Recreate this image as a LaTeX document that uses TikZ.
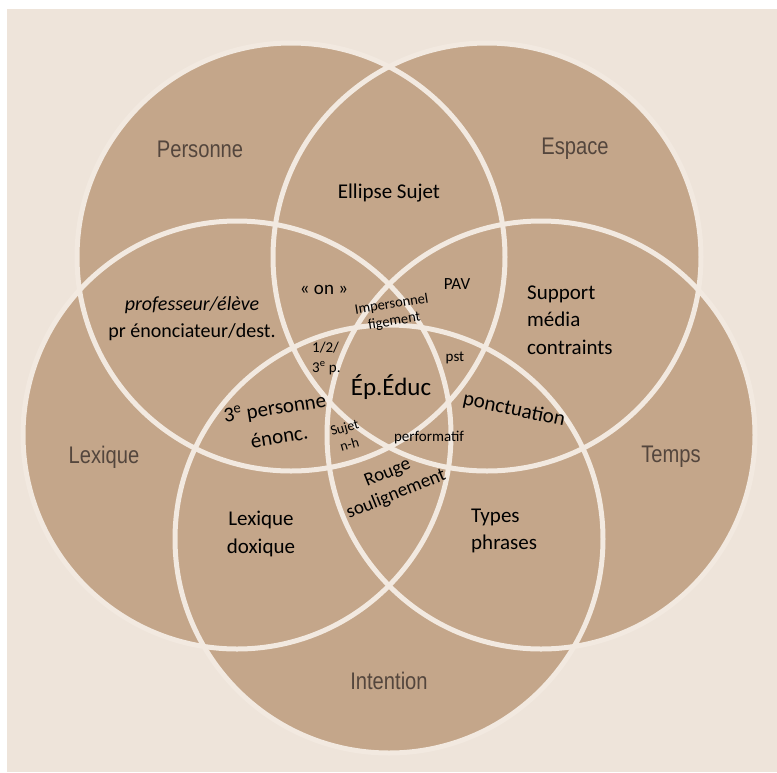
\documentclass[tikz,border=0pt]{standalone}
\usepackage{fontspec}
\setmainfont{Carlito}
\newfontfamily\condfont[FakeStretch=0.84]{Liberation Sans}
\definecolor{bgc}{HTML}{EEE4DA}
\definecolor{tanc}{HTML}{C4A68A}
\definecolor{ringc}{HTML}{F2E9E0}
\definecolor{labc}{HTML}{54463D}
\begin{document}
\begin{tikzpicture}[x=1pt,y=-1pt,
  setlab/.style={font=\condfont\fontsize{24}{24}\selectfont, text=labc, inner sep=0pt},
  txt/.style={font=\fontsize{21}{27.5}\selectfont, align=center, inner sep=0pt, text=black},
  smalltxt/.style={font=\fontsize{15}{18}\selectfont, align=center, inner sep=0pt, text=black},
  ring/.style={draw=ringc, line width=5pt},
  disk/.style={fill=tanc}]
\useasboundingbox (0,0) rectangle (777,772);
\fill[white] (0,0) rectangle (777,772);
\fill[bgc] (7,9) rectangle (777,772);
% circle centres
\coordinate (cP) at (291,257);
\coordinate (cE) at (487,257);
\coordinate (cL) at (237,435);
\coordinate (cT) at (541,435);
\coordinate (cI) at (389,539);
\foreach \c in {cP,cE,cL,cT,cI} \fill[disk] (\c) circle (214);
\foreach \c in {cP,cE,cL,cT,cI} \draw[ring] (\c) circle (214);
% set labels
\node[setlab] (personne) at (200,149) {Personne};
\node[setlab] (espace) at (575,149) {Espace};
\node[setlab] (lexique) at (104,457) {Lexique};
\node[setlab] (temps) at (671,457) {Temps};
\node[setlab] (intention) at (389,681) {Intention};
% region texts
\node[txt] (ellipse) at (389,193) {Ellipse Sujet};
\node[txt, font=\fontsize{20}{27}\selectfont] (prof) at (192,319) {\textit{professeur/élève}\\pr énonciateur/dest.};
\node[txt, font=\fontsize{19}{24}\selectfont] (on) at (324,290) {« on »};
\node[smalltxt, font=\fontsize{14.5}{17}\selectfont, rotate=9] (imp) at (393,313) {Impersonnel\\figement};
\node[txt, font=\fontsize{17}{20}\selectfont] (pav) at (457,284) {PAV};
\node[txt, align=left, anchor=west] (support) at (527,320) {Support\\média\\contraints};
\node[smalltxt, align=left, anchor=west, font=\fontsize{15}{20}\selectfont] (onetwo) at (312,358) {1/2/\\3\textsuperscript{e} p.};
\node[txt, font=\fontsize{25}{28}\selectfont] (ep) at (391,387) {Ép.Éduc};
\node[smalltxt] (pst) at (455,358) {pst};
\node[txt, font=\fontsize{21}{29}\selectfont, rotate=9] (troisp) at (277,422) {3\textsuperscript{e} personne\\énonc.};
\node[smalltxt, font=\fontsize{14}{18}\selectfont, rotate=16] (sujet) at (347,436) {Sujet\\n-h};
\node[smalltxt] (perf) at (429,438) {performatif};
\node[txt, rotate=-12] (ponct) at (514,410) {ponctuation};
\node[txt, font=\fontsize{19}{23}\selectfont, rotate=22] (rouge) at (392,484) {Rouge\\soulignement};
\node[txt] (lexdox) at (261,534) {Lexique\\doxique};
\node[txt, align=left, anchor=west] (types) at (471,531) {Types\\phrases};
\end{tikzpicture}
\end{document}
